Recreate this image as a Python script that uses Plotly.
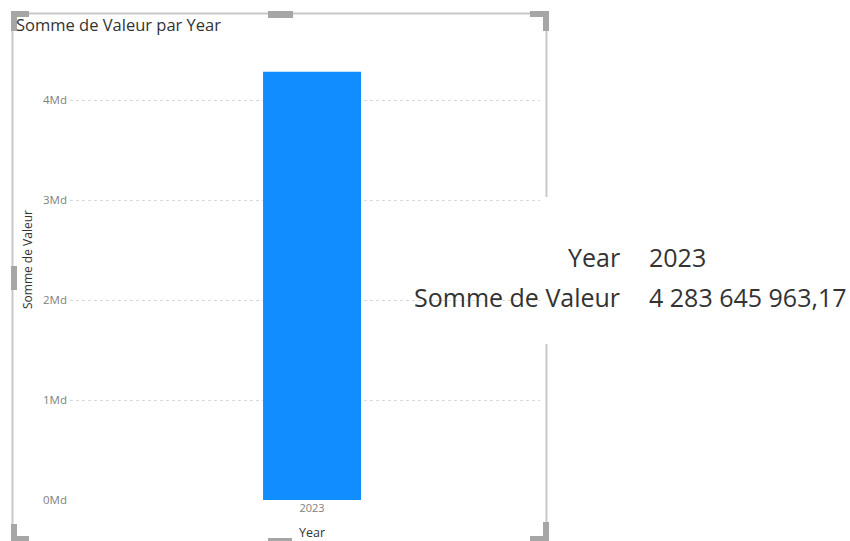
import plotly.graph_objects as go

# Data
years = ["2023"]
valeurs = [4283645963.17]
tick_vals = [0, 1e9, 2e9, 3e9, 4e9]
tick_text = ["0Md", "1Md", "2Md", "3Md", "4Md"]

W, H = 850, 541
L, R, T, B = 70, 540, 60, 500  # plot area in pixels


def px(x):
    return (x - L) / (R - L)


def py(y):
    return (B - y) / (B - T)


FONT = "Open Sans, Noto Sans, sans-serif"
GRID = "#d9d9d9"
HANDLE = "#a6a6a6"

fig = go.Figure(
    go.Bar(
        x=[0],
        y=valeurs,
        width=0.2085,
        marker=dict(color="#118DFF", line=dict(width=0)),
        hoverinfo="skip",
    )
)

fig.update_layout(
    width=W,
    height=H,
    margin=dict(l=L, r=W - R, t=T, b=H - B),
    paper_bgcolor="white",
    plot_bgcolor="white",
    showlegend=False,
    font=dict(family=FONT, color="#333333"),
    xaxis=dict(
        range=[-0.515, 0.485],
        tickvals=[0],
        ticktext=years,
        showgrid=False,
        zeroline=False,
        showline=False,
        ticks="",
        tickfont=dict(size=11, color="#808080"),
        fixedrange=True,
    ),
    yaxis=dict(
        range=[0, 4.4e9],
        tickvals=tick_vals,
        ticktext=tick_text,
        showgrid=True,
        gridcolor=GRID,
        griddash="dot",
        gridwidth=1,
        zeroline=False,
        showline=False,
        ticks="",
        ticklabelstandoff=2,
        tickfont=dict(size=11.5, color="#808080"),
        fixedrange=True,
    ),
)

shapes = []


def line(x0, y0, x1, y1, color="#c8c8c8", w=2):
    shapes.append(dict(type="line", xref="paper", yref="paper",
                       x0=px(x0), y0=py(y0), x1=px(x1), y1=py(y1),
                       line=dict(color=color, width=w), layer="above"))


def rect(x0, y0, x1, y1, color=HANDLE):
    shapes.append(dict(type="rect", xref="paper", yref="paper",
                       x0=px(x0), y0=py(y0), x1=px(x1), y1=py(y1),
                       fillcolor=color, line=dict(width=0), layer="above"))


# visual frame
line(12.5, 13.5, 546.5, 13.5)
line(12.5, 13.5, 12.5, 541)
line(546.5, 13.5, 546.5, 197)
line(546.5, 344, 546.5, 541)

# resize handles
rect(11, 11, 29, 17)
rect(11, 11, 17, 31)
rect(268, 11, 293, 18)
rect(530, 11, 549, 17)
rect(543, 11, 549, 31)
rect(11, 266, 17, 290)
rect(11, 524, 17, 541)
rect(11, 536, 29, 541)
rect(268, 538, 292, 541)
rect(530, 536, 549, 541)
rect(543, 522, 549, 541)

fig.update_layout(shapes=shapes)

ann = []


def text(x, y, s, size, color="#333333", xanchor="left", yanchor="middle", angle=0):
    ann.append(dict(text=s, xref="paper", yref="paper", x=px(x), y=py(y),
                    showarrow=False, xanchor=xanchor, yanchor=yanchor,
                    textangle=angle, font=dict(size=size, color=color, family=FONT)))


text(14, 25, "Somme de Valeur par Year", 16.5)
text(27, 260, "Somme de Valeur", 12, xanchor="center", yanchor="middle", angle=-90)
text(312, 532, "Year", 12.5, xanchor="center")

# tooltip
text(622, 257, "Year", 25, xanchor="right")
text(647, 257, years[0], 25)
text(622, 297, "Somme de Valeur", 25, xanchor="right")
valeur_txt = f"{valeurs[0]:,.2f}".replace(",", " ").replace(".", ",")
text(647, 297, valeur_txt, 25)

fig.update_layout(annotations=ann)

fig.write_html("out.html")
